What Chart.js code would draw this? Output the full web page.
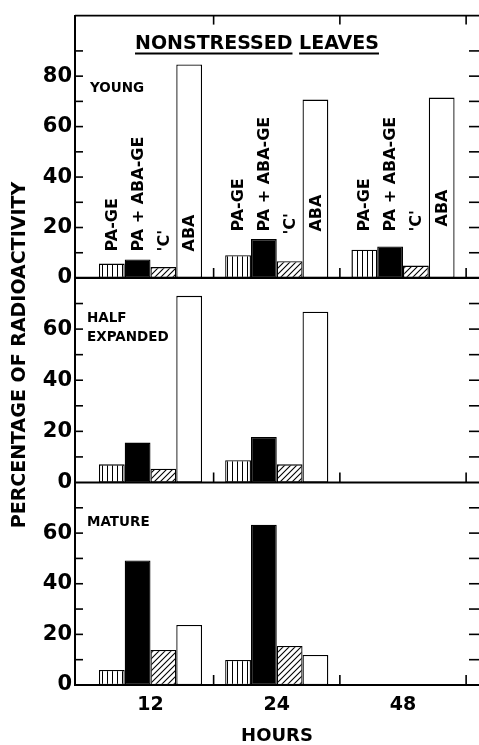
<!DOCTYPE html>
<html><head><meta charset="utf-8">
<script src="https://cdn.jsdelivr.net/npm/chart.js@4/dist/chart.umd.min.js"></script>
<style>
html,body{margin:0;padding:0;background:#fff;overflow:hidden;}
#wrap{position:relative;width:479px;height:745px;}
</style></head><body>
<div id="wrap"><canvas id="c"></canvas></div>
<script>
// ---------- data ----------
const hours = ['12', '24', '48'];
const seriesNames = ['PA-GE', 'PA + ABA-GE', "'C'", 'ABA'];
const youngTickLabels = [0, 20, 40, 60, 80];
const lowerTickLabels = [0, 20, 40, 60];

const youngPAGE    = [5.7, 9.0, 11.2];
const youngPAABAGE = [7.3, 15.4, 12.5];
const youngC       = [4.3, 6.6, 4.9];
const youngABA     = [84.6, 70.7, 71.5];

const halfPAGE     = [7.1, 8.7, null];
const halfPAABAGE  = [15.6, 17.8, null];
const halfC        = [5.4, 7.1, null];
const halfABA      = [73.0, 66.8, null];

const maturePAGE    = [5.9, 9.9, null];
const maturePAABAGE = [49.2, 63.3, null];
const matureC       = [13.8, 15.4, null];
const matureABA     = [23.7, 11.9, null];

// ---------- helpers ----------
const canvas = document.getElementById('c');
const ctx0 = canvas.getContext('2d');
function vPattern() {
  const c = document.createElement('canvas'); c.width = 5; c.height = 5;
  const g = c.getContext('2d');
  g.fillStyle = '#fff'; g.fillRect(0, 0, 5, 5);
  g.fillStyle = '#000'; g.fillRect(2, 0, 1, 5);
  return ctx0.createPattern(c, 'repeat');
}
function dPattern() {
  const n = 6;
  const c = document.createElement('canvas'); c.width = n; c.height = n;
  const g = c.getContext('2d');
  g.fillStyle = '#fff'; g.fillRect(0, 0, n, n);
  g.strokeStyle = '#000'; g.lineWidth = 1.1;
  g.beginPath();
  g.moveTo(-1, n + 1); g.lineTo(n + 1, -1);
  g.moveTo(-1, 1); g.lineTo(1, -1);
  g.moveTo(n - 1, n + 1); g.lineTo(n + 1, n - 1);
  g.stroke();
  return ctx0.createPattern(c, 'repeat');
}
const fills = [vPattern(), '#000', dPattern(), '#fff'];
const toPts = arr => arr.map((v, i) => ({x: i + 1, y: v})).filter(p => p.y !== null);

const panelData = [
  {axis: 'yY', sets: [youngPAGE, youngPAABAGE, youngC, youngABA]},
  {axis: 'yH', sets: [halfPAGE, halfPAABAGE, halfC, halfABA]},
  {axis: 'yM', sets: [maturePAGE, maturePAABAGE, matureC, matureABA]}
];
const datasets = [];
panelData.forEach(p => {
  p.sets.forEach((arr, s) => {
    datasets.push({
      label: seriesNames[s] + ' ' + p.axis,
      data: toPts(arr),
      yAxisID: p.axis,
      stack: seriesNames[s],
      backgroundColor: fills[s],
      borderColor: '#000',
      borderWidth: 1.3,
      borderSkipped: false,
      categoryPercentage: 0.817,
      barPercentage: 1.0
    });
  });
});

const FONT = 'DejaVu Sans';
function yAxis(weight, max, labels) {
  return {
    type: 'linear', position: 'left', stack: 'panels', stackWeight: weight,
    min: 0, max: max, stacked: false,
    grid: {display: false, drawTicks: false},
    border: {display: true, color: '#000', width: 2},
    ticks: {
      stepSize: 10, autoSkip: false, padding: 3, color: '#000',
      font: {family: FONT, size: 21, weight: 'bold'},
      callback: v => labels.includes(v) ? String(v) : ''
    },
    afterFit: s => { s.width = 75; }
  };
}

const deco = {
  id: 'deco',
  afterDraw(chart) {
    const {ctx, chartArea: {left, right, top, bottom}} = chart;
    const x = chart.scales.x;
    const line = (x1, y1, x2, y2, w) => {
      ctx.lineWidth = w; ctx.beginPath(); ctx.moveTo(x1, y1); ctx.lineTo(x2, y2); ctx.stroke();
    };
    ctx.save();
    ctx.strokeStyle = '#000'; ctx.fillStyle = '#000';
    line(left, top, right, top, 1.6);
    ['yY', 'yH'].forEach(id => {
      const y = chart.scales[id].getPixelForValue(0);
      line(left, y, right, y, 2.2);
    });
    const tickMax = {yY: 90, yH: 70, yM: 70};
    ['yY', 'yH', 'yM'].forEach(id => {
      const s = chart.scales[id];
      s.ticks.forEach(t => {
        if (t.value === 0 || t.value > tickMax[id]) return;
        const y = s.getPixelForValue(t.value);
        line(left, y, left + 8, y, 1.6);
        line(right - 10, y, right, y, 1.6);
      });
    });
    [1.5, 2.5, 3.5].forEach(v => {
      const px = x.getPixelForValue(v);
      ['yY', 'yH', 'yM'].forEach(id => {
        const yb = chart.scales[id].getPixelForValue(0);
        line(px, yb, px, yb - 10, 1.6);
      });
      line(px, top, px, top + 9, 1.6);
    });

    // bar labels (top panel)
    const yY = chart.scales.yY;
    const labelStart = [[10.5, 10.5, 10.5, 10.5], [18.4, 18.4, 17.2, 18.4], [18.4, 18.4, 18.4, 20.4]];
    ctx.font = 'bold 16px ' + FONT;
    ctx.textAlign = 'left'; ctx.textBaseline = 'middle';
    for (let s = 0; s < 4; s++) {
      const meta = chart.getDatasetMeta(s);
      meta.data.forEach((el, i) => {
        const y = yY.getPixelForValue(labelStart[i][s]);
        ctx.save();
        ctx.translate(el.x, y);
        ctx.rotate(-Math.PI / 2);
        ctx.fillText(seriesNames[s], 0, 1);
        ctx.restore();
      });
    }

    // panel labels
    ctx.font = 'bold 13.5px ' + FONT;
    ctx.textAlign = 'left'; ctx.textBaseline = 'middle';
    ctx.fillText('YOUNG', left + 15, chart.scales.yY.top + 73);
    ctx.fillText('HALF', left + 12, chart.scales.yH.top + 41);
    ctx.fillText('EXPANDED', left + 12, chart.scales.yH.top + 60);
    ctx.fillText('MATURE', left + 12, chart.scales.yM.top + 40);

    // title
    ctx.font = 'bold 19px ' + FONT;
    const w1 = ctx.measureText('NONSTRESSED').width;
    const wsp = ctx.measureText('NONSTRESSED ').width;
    const wall = ctx.measureText('NONSTRESSED LEAVES').width;
    const cx = 257, ty = top + 28;
    const x0 = cx - wall / 2;
    ctx.textAlign = 'left';
    ctx.fillText('NONSTRESSED LEAVES', x0, ty);
    line(x0, ty + 10, x0 + w1, ty + 10, 2);
    line(x0 + wsp, ty + 10, x0 + wall, ty + 10, 2);

    // y title
    ctx.font = 'bold 19px ' + FONT;
    ctx.textAlign = 'center';
    ctx.save();
    ctx.translate(20, 355);
    ctx.rotate(-Math.PI / 2);
    ctx.fillText('PERCENTAGE OF RADIOACTIVITY', 0, 0);
    ctx.restore();
    ctx.restore();
  }
};

new Chart(canvas, {
  type: 'bar',
  data: {datasets},
  options: {
    responsive: true, maintainAspectRatio: false, animation: false,
    layout: {padding: {top: 14, left: 0, right: 0, bottom: 0}},
    plugins: {legend: {display: false}, tooltip: {enabled: false}, title: {display: false}},
    scales: {
      x: {
        type: 'linear', min: 0.402, max: 3.602, offset: false,
        afterBuildTicks: s => { s.ticks = [1, 2, 3].map(v => ({value: v})); },
        grid: {display: false, drawTicks: false, offset: false},
        border: {display: true, color: '#000', width: 2},
        ticks: {
          color: '#000', padding: 8.6, maxRotation: 0, autoSkip: false,
          font: {family: FONT, size: 19, weight: 'bold'},
          callback: v => hours[v - 1]
        },
        title: {display: true, text: 'HOURS', color: '#000', padding: 0,
                font: {family: FONT, size: 18, weight: 'bold', lineHeight: 1.0}},
        afterFit: s => { s.height = 60; }
      },
      yM: yAxis(203, 80, lowerTickLabels),
      yH: yAxis(205, 80, lowerTickLabels),
      yY: yAxis(263, 104, youngTickLabels)
    }
  },
  plugins: [deco]
});
</script>
</body></html>
